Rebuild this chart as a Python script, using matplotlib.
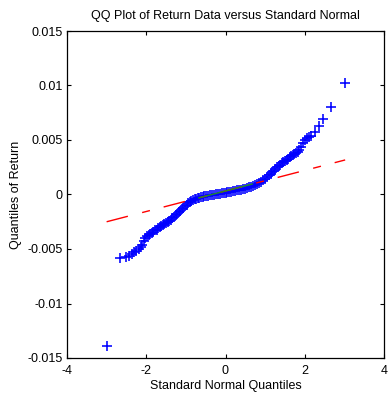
import matplotlib
matplotlib.use("Agg")
import matplotlib.pyplot as plt

# Theoretical (standard normal) quantiles and sample quantiles
x_quantiles = [
    -3.00, -2.65, -2.50, -2.44, -2.36, -2.30, -2.25, -2.19, -2.14, -2.10,
    -2.06, -2.02, -1.98, -1.94, -1.90, -1.86, -1.82, -1.78, -1.74, -1.70,
    -1.66, -1.62, -1.58, -1.54, -1.50, -1.46, -1.42, -1.38, -1.34, -1.30,
    -1.26, -1.22, -1.18, -1.14, -1.10, -1.06, -1.02, -0.98, -0.94, -0.90,
    -0.86, -0.82, -0.78, -0.74, -0.70, -0.66, -0.62, -0.58, -0.54, -0.50,
    -0.45, -0.40, -0.35, -0.30, -0.25, -0.20, -0.15, -0.10, -0.05, 0.00,
    0.05, 0.10, 0.15, 0.20, 0.25, 0.30, 0.35, 0.40, 0.45, 0.50,
    0.55, 0.60, 0.65, 0.70, 0.75, 0.80, 0.85, 0.90, 0.95, 1.00,
    1.05, 1.10, 1.14, 1.18, 1.22, 1.26, 1.30, 1.34, 1.38, 1.42,
    1.46, 1.50, 1.54, 1.58, 1.62, 1.66, 1.70, 1.74, 1.78, 1.82,
    1.86, 1.90, 1.95, 2.00, 2.05, 2.11, 2.17, 2.25, 2.35, 2.47,
    2.65, 3.02,
]
y_quantiles = [
    -0.0139, -0.0058, -0.0057, -0.0056, -0.00548, -0.0053, -0.0052, -0.0050, -0.0048, -0.0046,
    -0.0043, -0.0040, -0.0038, -0.0037, -0.0036, -0.0035, -0.0034, -0.0033, -0.00325, -0.0031,
    -0.0030, -0.0029, -0.0028, -0.0027, -0.0026, -0.0025, -0.0024, -0.0023, -0.0022, -0.0021,
    -0.0019, -0.0018, -0.0016, -0.0015, -0.0013, -0.0012, -0.00105, -0.00092, -0.0008, -0.0007,
    -0.0006, -0.00052, -0.00045, -0.00039, -0.00034, -0.00029, -0.00025, -0.00021, -0.00018, -0.00015,
    -0.00011, -0.00008, -0.00005, -0.00002, 0.00001, 0.00004, 0.00007, 0.0001, 0.00013, 0.00016,
    0.00019, 0.00022, 0.00025, 0.00029, 0.00033, 0.00037, 0.00041, 0.00045, 0.0005, 0.00055,
    0.0006, 0.00066, 0.00072, 0.00079, 0.00087, 0.00095, 0.00105, 0.00116, 0.0013, 0.00145,
    0.0016, 0.00178, 0.0019, 0.00205, 0.0022, 0.00235, 0.0025, 0.00262, 0.00274, 0.00285,
    0.00296, 0.00307, 0.00318, 0.0033, 0.0034, 0.0035, 0.0036, 0.0037, 0.0038, 0.0039,
    0.0041, 0.0044, 0.0047, 0.0050, 0.00515, 0.00525, 0.0054, 0.0057, 0.0063, 0.0069,
    0.0080, 0.0102,
]

# Reference line through the first and third quartiles
quartile_x = [-0.674, 0.674]
quartile_y = [-0.00031, 0.00096]

x_ticks = [-4, -2, 0, 2, 4]
x_ticklabels = ["-4", "-2", "0", "2", "4"]
y_ticks = [-0.015, -0.01, -0.005, 0, 0.005, 0.01, 0.015]
y_ticklabels = ["-0.015", "-0.01", "-0.005", "0", "0.005", "0.01", "0.015"]

plt.rcParams["font.family"] = ["Liberation Sans", "DejaVu Sans"]

fig = plt.figure(figsize=(3.88, 3.94), dpi=100)
ax = fig.add_axes([67 / 388, 1 - 358 / 394, 317 / 388, 327 / 394])

ax.plot(x_quantiles, y_quantiles, linestyle="none", marker="+", color="#0000ff",
        markersize=6.6, markeredgewidth=1.15, zorder=2)

# extended fit line (dash-dot) over the whole data range
slope = (quartile_y[1] - quartile_y[0]) / (quartile_x[1] - quartile_x[0])
x0, x1 = min(x_quantiles), max(x_quantiles)
y0 = quartile_y[0] + slope * (x0 - quartile_x[0])
y1 = quartile_y[0] + slope * (x1 - quartile_x[0])
ext, = ax.plot([x0, x1], [y0, y1], color="#ff0000", linewidth=1.0, zorder=3)
ext.set_dashes([15.8, 10.6, 5.8, 10.2])
# solid segment between quartiles
ax.plot(quartile_x, quartile_y, color="#1f8a2a", linewidth=1.0, zorder=4)

ax.set_xlim(-4, 4)
ax.set_ylim(-0.015, 0.015)
ax.set_xticks(x_ticks)
ax.set_xticklabels(x_ticklabels)
ax.set_yticks(y_ticks)
ax.set_yticklabels(y_ticklabels)
ax.tick_params(direction="in", length=3, width=0.8, top=True, right=True,
               labelsize=9, colors="black")
ax.tick_params(axis="x", pad=5)
ax.tick_params(axis="y", pad=3)
for s in ax.spines.values():
    s.set_linewidth(0.9)

ax.set_title("QQ Plot of Return Data versus Standard Normal", fontsize=9, pad=9)
ax.set_xlabel("Standard Normal Quantiles", fontsize=9, labelpad=2)
ax.set_ylabel("Quantiles of Return", fontsize=9, labelpad=4)

fig.savefig("out.png", dpi=100)
